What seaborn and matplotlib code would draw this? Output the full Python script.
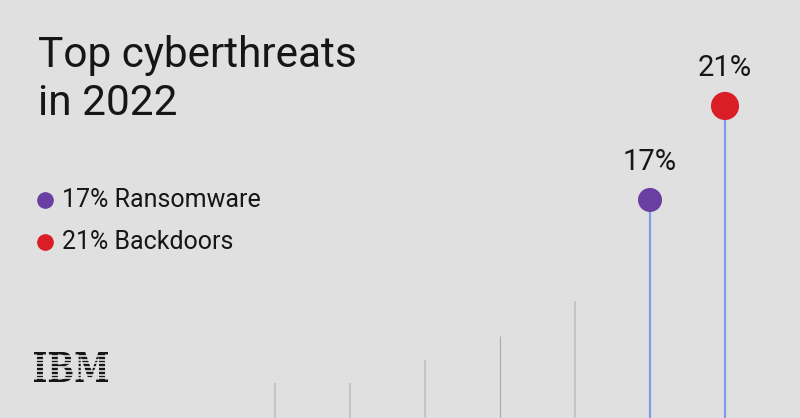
import numpy as np
import pandas as pd
import seaborn as sns
import matplotlib.pyplot as plt
from matplotlib.lines import Line2D
from matplotlib.textpath import TextPath
from matplotlib.patches import PathPatch
from matplotlib.font_manager import FontProperties
from matplotlib.transforms import Affine2D, IdentityTransform

# datos (porcentaje estimado de cada amenaza)
posicion = [0, 1, 2, 3, 4, 5, 6]
valores = [9.2, 9.2, 10.2, 11.2, 12.7, 17, 21]
destacado = [False, False, False, False, False, True, True]
etiquetas_punto = ["", "", "", "", "", "17%", "21%"]
leyenda_textos = ["17% Ransomware", "21% Backdoors"]

fondo = "#e0e0e0"
color_gris = ["#c6c6c6", "#c6c6c6", "#c6c6c6", "#adadad", "#c6c6c6"]
ancho_gris = [1.5, 1.5, 1.5, 0.9, 1.5]
color_azul = "#7a9ee8"
color_puntos = ["#6a3fa3", "#da1e28"]
tam_puntos = [300, 410]

sns.set_theme(style="white")
plt.rcParams["font.family"] = ["Roboto", "DejaVu Sans"]

df = pd.DataFrame({"pos": posicion, "valor": valores, "destacado": destacado,
                   "etiqueta": etiquetas_punto})

fig = plt.figure(figsize=(8, 4.18), dpi=100)
fig.patch.set_facecolor(fondo)
ax = fig.add_axes([0, 0, 1, 1])
ax.set_facecolor(fondo)

# tallos grises
grises = df[~df["destacado"]]
ax.vlines(grises["pos"], 0, grises["valor"], colors=color_gris, linewidth=ancho_gris)
# tallos azules
azules = df[df["destacado"]].copy()
ax.vlines(azules["pos"], 0, azules["valor"], colors=color_azul, linewidth=1.6, zorder=2)

azules["tam"] = tam_puntos
sns.scatterplot(data=azules, x="pos", y="valor", hue="etiqueta",
                palette=color_puntos, size="tam", sizes=(min(tam_puntos), max(tam_puntos)),
                linewidth=0, legend=False, ax=ax, zorder=3)

for _, r in azules.iterrows():
    ax.annotate(r["etiqueta"], (r["pos"], r["valor"]), xytext=(0, 21.5),
                textcoords="offset points", ha="center", va="baseline",
                fontsize=21, color="#161616")

ax.set_xlim(-3.667, 7.0)
ax.set_ylim(7.72, 25.51)
ax.axis("off")

# titulo
fig.text(38 / 800, 1 - 67 / 418, "Top cyberthreats", fontsize=30.5, fontweight="normal",
         color="#161616", va="baseline", ha="left")
fig.text(38 / 800, 1 - 115 / 418, "in 2022", fontsize=30.5, fontweight="normal",
         color="#161616", va="baseline", ha="left")

# leyenda
for i, (txt, c) in enumerate(zip(leyenda_textos, color_puntos)):
    y = 1 - (200 + 42 * i) / 418
    fig.add_artist(Line2D([45 / 800], [y], marker="o", markersize=11,
                          color=c, linestyle="none"))
    fig.text(62 / 800, y, txt, fontsize=18, color="#161616", va="center", ha="left")

# logo IBM (texto escalado a la caja del logo, con franjas)
tp = TextPath((0, 0), "IBM", size=40, prop=FontProperties(family="DejaVu Serif", weight="bold"))
ext = tp.get_extents()
x0, y0, w, h = 34, 418 - 382, 74, 30
tr = Affine2D().translate(-ext.x0, -ext.y0).scale(w / ext.width, h / ext.height).translate(x0, y0)
fig.add_artist(PathPatch(tr.transform_path(tp), transform=IdentityTransform(),
                         facecolor="#161616", edgecolor="none", zorder=5))
for k in range(1, 8):
    yy = y0 + h * k / 8
    fig.add_artist(Line2D([30, 112], [yy, yy], transform=IdentityTransform(),
                          color=fondo, linewidth=1.2, zorder=6))

fig.savefig("out.png", dpi=100, facecolor=fondo)
